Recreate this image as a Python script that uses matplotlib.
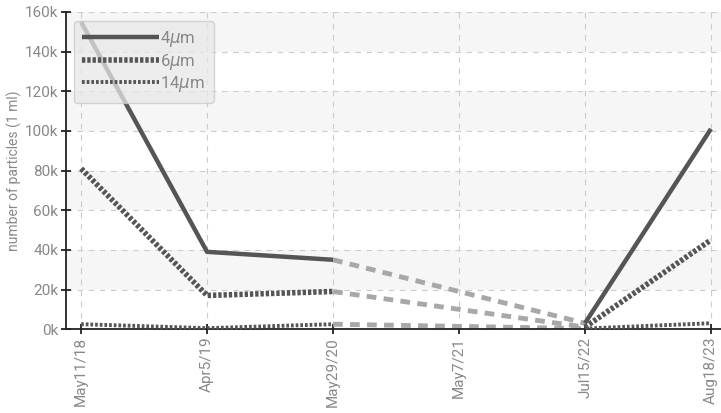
import numpy as np
import matplotlib.pyplot as plt

# sampling dates (May7/21 has no measurement)
dates = ['May11/18', 'Apr5/19', 'May29/20', 'May7/21', 'Jul15/22', 'Aug18/23']
y_ticks = [0, 20, 40, 60, 80, 100, 120, 140, 160]

# particle counts per ml, in thousands
p4 = [155, 39, 35, np.nan, 3, 101]
p6 = [81, 17, 19, np.nan, 1, 45]
p14 = [2.5, 0.5, 2.5, np.nan, 0.3, 3]

plt.rcParams['font.family'] = ['Roboto', 'DejaVu Sans']

fig = plt.figure(figsize=(7.21, 4.13), dpi=100)
ax = fig.add_axes([0.0915, 0.203, 0.9085, 0.768])

x = np.arange(len(dates))

# alternating background bands
for i in range(len(y_ticks) - 1):
    if i % 2 == 1:
        ax.axhspan(y_ticks[i], y_ticks[i + 1], color='#f6f6f6', zorder=0, lw=0)

series = [
    (p4, '4$\\mu$m', '-', 3.2),
    (p6, '6$\\mu$m', (0, (0.6, 0.35)), 4),
    (p14, '14$\\mu$m', (0, (0.7, 0.5)), 2.8),
]

for vals, name, ls, lw in series:
    v = np.array(vals, dtype=float)
    ax.plot(x, v, color='#555555', ls=ls, lw=lw, label=name, zorder=3,
            solid_capstyle='butt', dash_capstyle='butt')
    # bridge the missing sample with a dashed grey line
    ok = np.where(~np.isnan(v))[0]
    for a, b in zip(ok[:-1], ok[1:]):
        if b - a > 1:
            ax.plot([a, b], [v[a], v[b]], color='#a8a8a8', ls=(0, (2, 1.5)),
                    lw=3.5, zorder=2)

ax.set_xlim(-0.12, 5.08)
ax.set_ylim(0, 160)
ax.set_yticks(y_ticks)
ax.set_yticklabels([f'{t}k' for t in y_ticks])
ax.set_xticks(x)
ax.set_xticklabels(dates, rotation=90)

ax.grid(True, color='#cccccc', ls=(0, (5, 5)), lw=0.8)
ax.set_axisbelow(True)

for s in ['top', 'right']:
    ax.spines[s].set_visible(False)
ax.spines['left'].set_color('#222222')
ax.spines['bottom'].set_color('#222222')
ax.spines['left'].set_linewidth(1.3)
ax.spines['bottom'].set_linewidth(1.3)
ax.tick_params(direction='inout', length=7, width=1.3, color='#222222',
               labelcolor='#888888', labelsize=11, pad=2)

ax.set_ylabel('number of particles (1 ml)', color='#888888', fontsize=10, labelpad=2)

leg = ax.legend(loc='upper left', bbox_to_anchor=(0.012, 0.972), frameon=True,
                fancybox=True, shadow=False, fontsize=12, handlelength=4.6,
                handletextpad=0.1, labelspacing=0.15, borderpad=0.5,
                borderaxespad=0)
leg.get_frame().set_facecolor('#e8e8e8')
leg.get_frame().set_edgecolor('#c8c8c8')
leg.get_frame().set_alpha(0.75)
for t in leg.get_texts():
    t.set_color('#888888')

fig.savefig('out.png', dpi=100)
